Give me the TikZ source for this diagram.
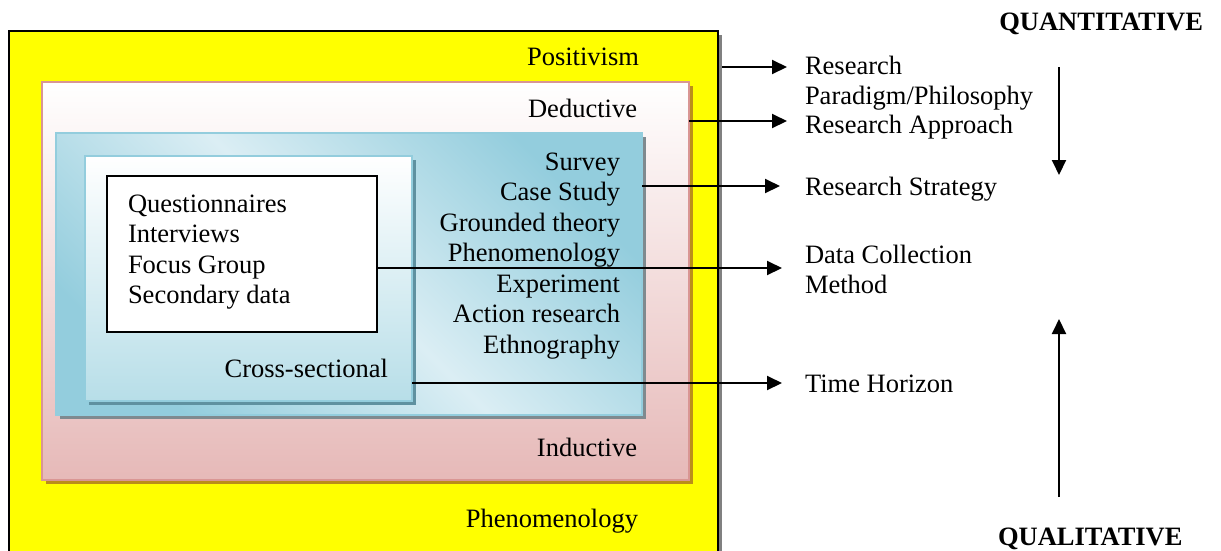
\documentclass[tikz,border=0pt]{standalone}
\usepackage{fontspec}
\setmainfont{Liberation Serif}
\usetikzlibrary{arrows.meta,shadows,calc}

% box fills, borders and shadows
\definecolor{parafill}{RGB}{255,255,0}
\definecolor{parashadow}{RGB}{128,128,128}
\definecolor{apprborder}{RGB}{217,150,148}
\definecolor{apprbottom}{RGB}{230,185,184}
\definecolor{apprshadow}{RGB}{186,142,26}
\definecolor{stratborder}{RGB}{147,205,221}
\definecolor{stratdark}{RGB}{147,205,221}
\definecolor{stratlight}{RGB}{219,238,244}
\definecolor{stratshadow}{RGB}{127,138,143}
\definecolor{timebottom}{RGB}{183,222,232}
\definecolor{timeshadow}{RGB}{95,145,160}

\begin{document}
\begin{tikzpicture}[x=1pt,y=-1pt,
  txt/.style={inner sep=0pt, outer sep=0pt, font=\fontsize{26.5}{30.5}\selectfont},
  headtxt/.style={txt, font=\fontsize{26.5}{30.5}\selectfont\bfseries},
  frame/.style={anchor=north west, inner sep=0pt, outer sep=0pt},
  link/.style={line width=2pt, -{Triangle[length=15pt,width=14pt]}},
  boxshadow/.style={drop shadow={shadow xshift=4pt, shadow yshift=-4pt,
      fill=#1, draw=none, opacity=1}},
]
\useasboundingbox (0,0) rectangle (1221,550);
\clip (0,0) rectangle (1221,550);

% nested layers, outermost first
\node[frame, fill=parafill, draw=black, line width=2pt,
      minimum width=709pt, minimum height=525pt, boxshadow=parashadow]
      (para) at (9,31) {};
\node[frame, top color=white, bottom color=apprbottom, draw=apprborder,
      line width=1.5pt, minimum width=647pt, minimum height=398pt,
      boxshadow=apprshadow]
      (appr) at (42,82) {};
\node[frame, shading=axis, top color=stratdark, bottom color=stratdark,
      middle color=stratlight, shading angle=-45, draw=stratborder,
      line width=1.5pt, minimum width=586pt, minimum height=282pt,
      boxshadow=stratshadow]
      (strat) at (56,133) {};
\node[frame, top color=white, bottom color=timebottom, draw=stratborder,
      line width=2pt, minimum width=327pt, minimum height=245pt,
      boxshadow=timeshadow]
      (time) at (85,156) {};
\node[frame, fill=white, draw=black, line width=1.5pt,
      minimum width=270pt, minimum height=156pt]
      (data) at (107,176) {};

% labels inside the layers
\node[txt, anchor=base east] (positivism) at (639,65) {Positivism};
\node[txt, anchor=base east] (deductive) at (637,117) {Deductive};
\node[txt, anchor=north east, align=right] (strategies) at (620,148.65)
  {\strut Survey\\Case Study\\Grounded theory\\Phenomenology\\Experiment\\Action research\\Ethnography};
\node[txt, anchor=north west, align=left] (methods) at (128,190.65)
  {\strut Questionnaires\\Interviews\\Focus Group\\Secondary data};
\node[txt, anchor=base east] (cross) at (388,377) {Cross-sectional};
\node[txt, anchor=base east] (inductive) at (637,456) {Inductive};
\node[txt, anchor=base east] (phenom) at (638,527) {Phenomenology};

% layer names on the right
\node[txt, anchor=north west, align=left] (paradigm) at (805,52.65)
  {\strut Research\\Paradigm/Philosophy};
\node[txt, anchor=base west] (approach) at (805,133) {Research Approach};
\node[txt, anchor=base west] (strategy) at (805,195) {Research Strategy};
\node[txt, anchor=north west, align=left] (collection) at (805,241.65)
  {\strut Data Collection\\Method};
\node[txt, anchor=base west] (horizon) at (805,392) {Time Horizon};

\node[headtxt, anchor=base east] (quant) at (1203,30) {QUANTITATIVE};
\node[headtxt, anchor=base west] (qual) at (998,545) {QUALITATIVE};

% arrow ends
\coordinate (a1) at (787,67);
\coordinate (a2) at (787,121);
\coordinate (a3) at (780,186);
\coordinate (a4) at (782,268);
\coordinate (a5) at (782,383);
\coordinate (q1) at (1059,67);
\coordinate (q2) at (1059,175);
\coordinate (l1) at (1059,497);
\coordinate (l2) at (1059,319);

% connectors from each layer to its name
\draw[link] ($(para.east |- a1)+(4,0)$) -- (a1);
\draw[link] (appr.east |- a2) -- (a2);
\draw[link] (strat.east |- a3) -- (a3);
\draw[link] (data.east |- a4) -- (a4);
\draw[link] (time.east |- a5) -- (a5);

% direction arrows between the two poles
\draw[link] (q1) -- (q2);
\draw[link] (l1) -- (l2);
\end{tikzpicture}
\end{document}
